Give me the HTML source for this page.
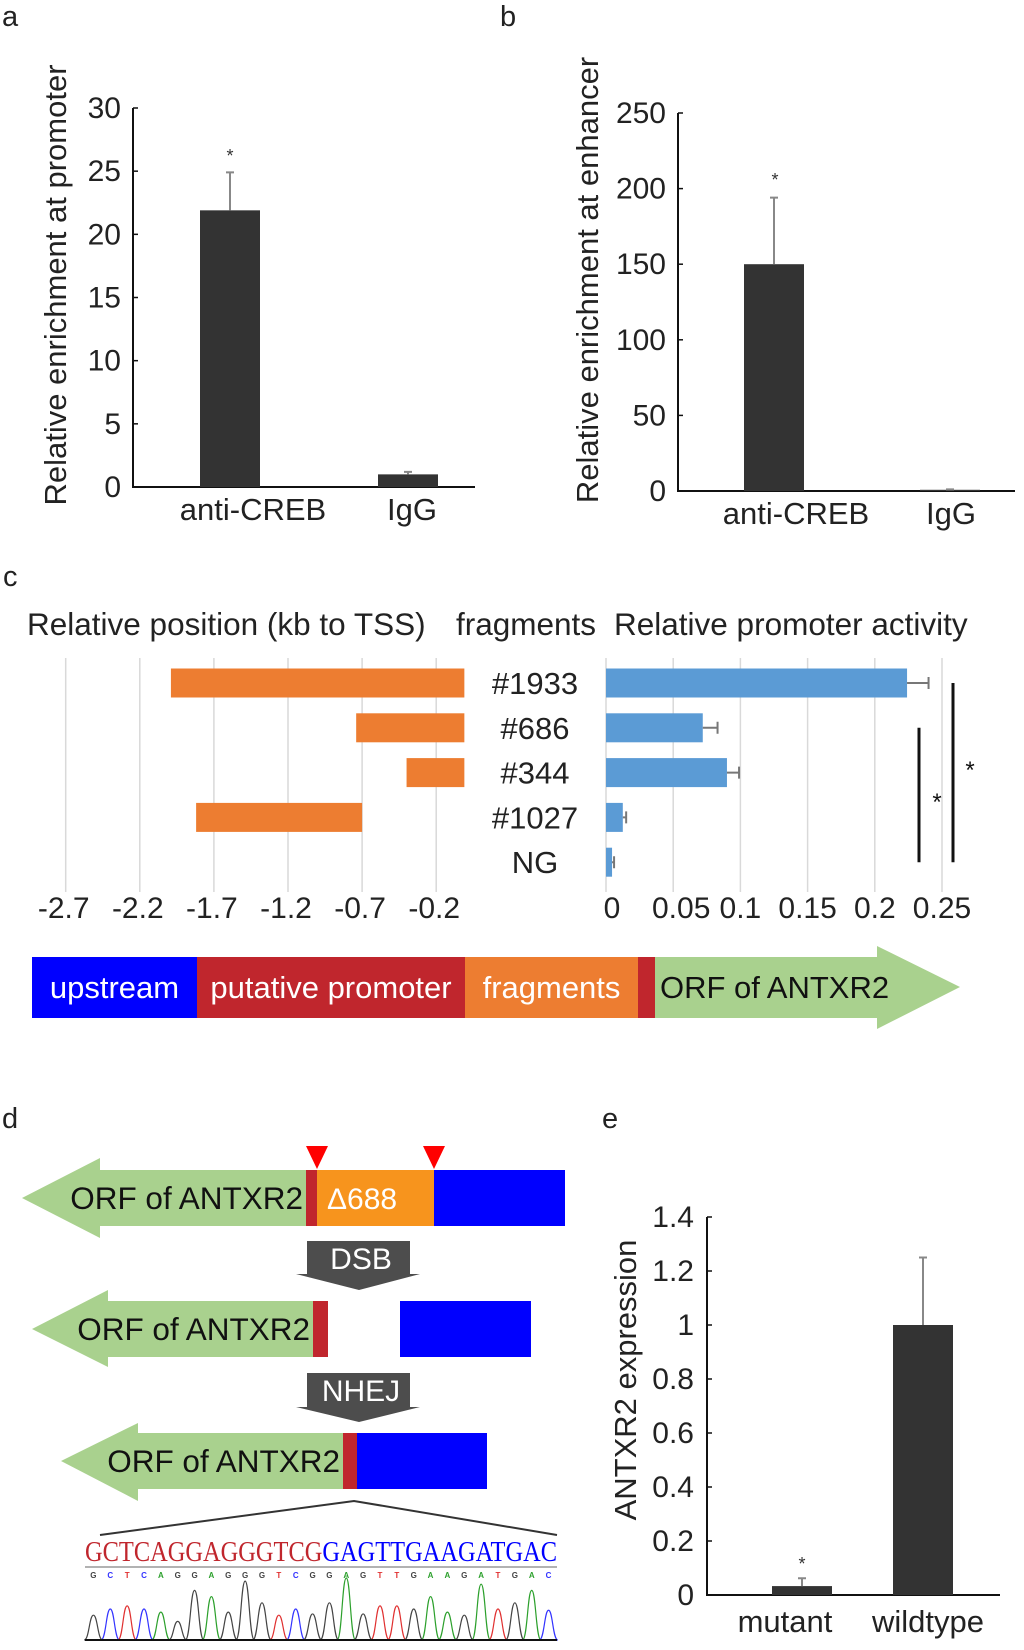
<!DOCTYPE html>
<html><head><meta charset="utf-8">
<style>
html,body{margin:0;padding:0;background:#fff;}
svg{display:block;font-family:"Liberation Sans",Arial,sans-serif;}
</style></head>
<body>
<svg id="fig" width="1024" height="1650" viewBox="0 0 1024 1650" xmlns="http://www.w3.org/2000/svg">
<g id="pa"></g>
<g id="pb"></g>
<g id="pc"></g>
<g id="pd"></g>
<g id="pe"></g>
</svg>
<script>
// ---- Panel a data ----
const aCategories = ["anti-CREB", "IgG"];
const aValues = [21.9, 1.0];
const aErrors = [3.0, 0.2];
const aTicks = [0, 5, 10, 15, 20, 25, 30];
// ---- Panel b data ----
const bCategories = ["anti-CREB", "IgG"];
const bValues = [150, 0.8];
const bErrors = [44, 0.3];
const bTicks = [0, 50, 100, 150, 200, 250];
// ---- Panel c data ----
const cFragments = ["#1933", "#686", "#344", "#1027", "NG"];
const cStart = [-1.99, -0.74, -0.40, -1.82, null];
const cEnd = [-0.01, -0.01, -0.01, -0.70, null];
const cActivity = [0.224, 0.072, 0.090, 0.0125, 0.0045];
const cActErr = [0.016, 0.011, 0.009, 0.0025, 0.0015];
const cPosTicks = [-2.7, -2.2, -1.7, -1.2, -0.7, -0.2];
const cActTicks = [0, 0.05, 0.1, 0.15, 0.2, 0.25];
const cActTickLabels = ["0", "0.05", "0.1", "0.15", "0.2", "0.25"];
// ---- Panel e data ----
const eCategories = ["mutant", "wildtype"];
const eValues = [0.033, 1.0];
const eErrors = [0.029, 0.25];
const eTicks = [0, 0.2, 0.4, 0.6, 0.8, 1, 1.2, 1.4];
// ---- chromatogram (decorative) ----
const seqBases = "GCTCAGGAGGGTCGGAGTTGAAGATGAC".split("");
const peakHeights = [0.4,0.5,0.55,0.5,0.45,0.3,0.8,0.7,0.45,0.95,0.6,0.4,0.5,0.42,0.6,1.0,0.42,0.55,0.55,0.5,0.7,0.45,0.4,0.9,0.5,0.6,0.8,0.48];

const NS="http://www.w3.org/2000/svg";
function mk(parent, tag, attrs, text){
  const el=document.createElementNS(NS,tag);
  for(const k in attrs) el.setAttribute(k,attrs[k]);
  if(text!==undefined) el.textContent=text;
  parent.appendChild(el); return el;
}

function barPanel(g, o){
  const y = v => o.y0 - (v - 0) / o.max * (o.y0 - o.yTop);
  const ax = mk(g,'path',{d:`M${o.x0},${o.yTop} L${o.x0},${o.y0} L${o.xEnd},${o.y0}`,fill:'none',stroke:'#111','stroke-width':2});
   
  o.ticks.forEach((t,i)=>{
    const tk=mk(g,'line',{x1:o.x0,x2:o.x0+5,y1:y(t),y2:y(t),stroke:'#111','stroke-width':1.5});
     
    const tl=mk(g,'text',{x:o.labRight,y:y(t)+10,'text-anchor':'end','font-size':30,fill:'#222'},String(t));
     
  });
  o.cats.forEach((c,i)=>{
    const bx=o.barX[i], bw=o.barW;
    const top=y(o.vals[i]);
    const r=mk(g,'rect',{x:bx,y:top,width:bw,height:o.y0-top,fill:'#333'});
     
    const et=y(o.vals[i]+o.errs[i]);
    const e=mk(g,'path',{d:`M${bx+bw/2},${top} L${bx+bw/2},${et} M${bx+bw/2-4},${et} L${bx+bw/2+4},${et}`,stroke:'#888','stroke-width':2,fill:'none'});
     
    const cl=mk(g,'text',{x:o.labX[i],y:o.labY,'text-anchor':'middle','font-size':31,fill:'#222'},c);
     
  });
  if(o.star){
    const s=mk(g,'text',{x:o.star[0],y:o.star[1],'text-anchor':'middle','font-size':18,fill:'#333'},'*');
     
  }
  const yt=mk(g,'text',{x:0,y:0,transform:`translate(${o.titleX},${o.titleY}) rotate(-90)`,'text-anchor':'middle','font-size':31,fill:'#222'},o.title);
   
  const pl=mk(g,'text',{x:o.panel[1],y:o.panel[2],'font-size':29,fill:'#222'},o.panel[0]);
   
}

barPanel(document.getElementById('pa'),{x0:133,y0:487,yTop:108,xEnd:475,max:30,ticks:aTicks,labRight:121,
  cats:aCategories,vals:aValues,errs:aErrors,barX:[200,378],barW:60,labX:[253,412],labY:520,
  star:[230,162],title:'Relative enrichment at promoter',titleX:66,titleY:285,panel:['a',2,26]});
barPanel(document.getElementById('pb'),{x0:678,y0:491,yTop:113,xEnd:1015,max:250,ticks:bTicks,labRight:666,
  cats:bCategories,vals:bValues,errs:bErrors,barX:[744,920],barW:60,labX:[796,951],labY:524,
  star:[775,186],title:'Relative enrichment at enhancer',titleX:598,titleY:280,panel:['b',500,26]});
barPanel(document.getElementById('pe'),{x0:707,y0:1595,yTop:1217,xEnd:1000,max:1.4,ticks:eTicks,labRight:694,
  cats:eCategories,vals:eValues,errs:eErrors,barX:[772,893],barW:60,labX:[785,928],labY:1632,
  star:[802,1570],title:'ANTXR2 expression',titleX:636,titleY:1380,panel:['e',602,1128]});

// ---- Panel c ----
(function(){
  const g=document.getElementById('pc');
  const px = v => 65.7 + (v - (-2.7)) * 148.2;
  const ax = v => 606 + v / 0.05 * 67.2;
  const rowY = i => 683 + i * 44.8;
  const bh = 29;
  const pl=mk(g,'text',{x:3,y:586,'font-size':29,fill:'#222'},'c');
   
  [['Relative position (kb to TSS)',27,'position-header'],['fragments',456,'fragments-header'],['Relative promoter activity',614,'activity-header']].forEach(h=>{
    const t=mk(g,'text',{x:h[1],y:635,'font-size':31.5,fill:'#222'},h[0]);
     
  });
  cPosTicks.forEach(t=>{
    const l=mk(g,'line',{x1:px(t),x2:px(t),y1:658,y2:892,stroke:'#d9d9d9','stroke-width':1.5});
     
    const tl=mk(g,'text',{x:px(t)-2,y:918,'text-anchor':'middle','font-size':30,fill:'#222'},String(t));
     
  });
  cActTicks.forEach((t,i)=>{
    const l=mk(g,'line',{x1:ax(t),x2:ax(t),y1:658,y2:892,stroke:'#d9d9d9','stroke-width':1.5});
     
    const tl=mk(g,'text',{x:ax(t)+(i===1?8:0)+(i===0?6:0),y:918,'text-anchor':'middle','font-size':30,fill:'#222'},cActTickLabels[i]);
     
  });
  cFragments.forEach((f,i)=>{
    const cy=rowY(i);
    if(cStart[i]!==null){
      const r=mk(g,'rect',{x:px(cStart[i]),y:cy-bh/2,width:px(cEnd[i])-px(cStart[i]),height:bh,fill:'#ed7d31'});
      
      
    }
    const lab=mk(g,'text',{x:535,y:cy+11,'text-anchor':'middle','font-size':31,fill:'#222'},f);
     
    const b=mk(g,'rect',{x:ax(0),y:cy-bh/2,width:ax(cActivity[i])-ax(0),height:bh,fill:'#5b9bd5'});
    
    
    const ex=ax(cActivity[i]+cActErr[i]);
    const e=mk(g,'path',{d:`M${ax(cActivity[i])},${cy} L${ex},${cy} M${ex},${cy-6} L${ex},${cy+6}`,stroke:'#777','stroke-width':2,fill:'none'});
     
  });
  const s1=mk(g,'line',{x1:919,x2:919,y1:rowY(1),y2:rowY(4),stroke:'#111','stroke-width':3});
   
  const s2=mk(g,'line',{x1:953,x2:953,y1:rowY(0),y2:rowY(4),stroke:'#111','stroke-width':3});
   
  const a1=mk(g,'text',{x:937,y:810,'text-anchor':'middle','font-size':24,fill:'#111'},'*');
   
  const a2=mk(g,'text',{x:970,y:778,'text-anchor':'middle','font-size':24,fill:'#111'},'*');
   
  // gene map
  const segs=[[32,197,'#0000ff','upstream','#fff'],[197,465,'#c0262d','putative promoter','#fff'],[465,638,'#ed7d31','fragments','#fff'],[638,655,'#c0262d','','']];
  segs.forEach(s=>{
    const r=mk(g,'rect',{x:s[0],y:957,width:s[1]-s[0],height:61,fill:s[2]});
     
    if(s[3]){const t=mk(g,'text',{x:(s[0]+s[1])/2,y:998,'text-anchor':'middle','font-size':31,fill:s[4]},s[3]);
       }
  });
  const ar=mk(g,'polygon',{points:'655,957 877,957 877,946 960,987 877,1029 877,1018 655,1018',fill:'#a9d18e'});
   
  const at=mk(g,'text',{x:660,y:998,'font-size':31,fill:'#111'},'ORF of ANTXR2');
   
})();

// ---- Panel d ----
(function(){
  const g=document.getElementById('pd');
  const pl=mk(g,'text',{x:2,y:1128,'font-size':29,fill:'#222'},'d');
   
  function arrow(tip, headX, bodyEnd, top, bot, htop, hbot){
    const mid=(top+bot)/2;
    const p=mk(g,'polygon',{points:`${tip},${mid} ${headX},${htop} ${headX},${top} ${bodyEnd},${top} ${bodyEnd},${bot} ${headX},${bot} ${headX},${hbot}`,fill:'#a9d18e'});
     
    const t=mk(g,'text',{x:bodyEnd-3,y:mid+11,'text-anchor':'end','font-size':31.5,fill:'#111'},'ORF of ANTXR2');
     
  }
  function rect(x1,x2,y1,y2,fill,name){const r=mk(g,'rect',{x:x1,y:y1,width:x2-x1,height:y2-y1,fill:fill});
     }
  // row 1
  arrow(22,100,306,1170,1226,1158,1238);
  rect(306,317,1170,1226,'#c0262d','red-segment');
  rect(317,434,1170,1226,'#f7941d','deletion-segment');
  rect(434,565,1170,1226,'#0000ff','upstream-segment');
  const dt=mk(g,'text',{x:327,y:1209,'font-size':30,fill:'#fff'},'Δ688');
   
  [317,434].forEach(x=>{const t=mk(g,'polygon',{points:`${x-11},1146 ${x+11},1146 ${x},1169`,fill:'#ff0000'});
     });
  function step(label,top,bot,tipY){
    const p=mk(g,'polygon',{points:`307,${top} 410,${top} 410,${bot} 420,${bot} 359,${tipY} 296,${bot} 307,${bot}`,fill:'#4d4d4d'});
     
    const t=mk(g,'text',{x:361,y:top+28,'text-anchor':'middle','font-size':30,fill:'#fff'},label);
     
  }
  step('DSB',1241,1274,1290);
  // row 2
  arrow(32,108,313,1301,1357,1290,1367);
  rect(313,328,1301,1357,'#c0262d','red-segment');
  rect(400,531,1301,1357,'#0000ff','upstream-segment');
  step('NHEJ',1373,1407,1422);
  // row 3
  arrow(61,138,343,1433,1489,1423,1501);
  rect(343,357,1433,1489,'#c0262d','red-segment');
  rect(357,487,1433,1489,'#0000ff','upstream-segment');
  const zl=mk(g,'path',{d:'M100,1535 L354,1501 L557,1535',stroke:'#333','stroke-width':2,fill:'none'});
   
  const seq=mk(g,'text',{x:85,y:1561,'font-family':'"Liberation Serif",serif','font-size':29,textLength:472,lengthAdjust:'spacingAndGlyphs'});
   
  mk(seq,'tspan',{fill:'#c0262d'},'GCTCAGGAGGGTCG');
  mk(seq,'tspan',{fill:'#0000ff'},'GAGTTGAAGATGAC');
  const gl=mk(g,'line',{x1:85,x2:557,y1:1567,y2:1567,stroke:'#999','stroke-width':1.5});
   
  const col={A:'#2ca02c',C:'#3333ff',G:'#444',T:'#e03030'};
  const step28=(557-85)/seqBases.length;
  seqBases.forEach((b,i)=>{
    const cx=85+step28*(i+0.5);
    const t=mk(g,'text',{x:cx,y:1578,'text-anchor':'middle','font-size':8,fill:col[b],'font-weight':'bold'},b);
     
    const h=peakHeights[i]*62;
    const p=mk(g,'path',{d:`M${cx-step28*0.55},1640 C${cx-step28*0.25},1640 ${cx-step28*0.25},${1640-h} ${cx},${1640-h} C${cx+step28*0.25},${1640-h} ${cx+step28*0.25},1640 ${cx+step28*0.55},1640`,stroke:col[b],'stroke-width':1.2,fill:'none'});
     
  });
  const bl=mk(g,'line',{x1:85,x2:557,y1:1640,y2:1640,stroke:'#111','stroke-width':2});
   
})();
</script>
</body></html>
